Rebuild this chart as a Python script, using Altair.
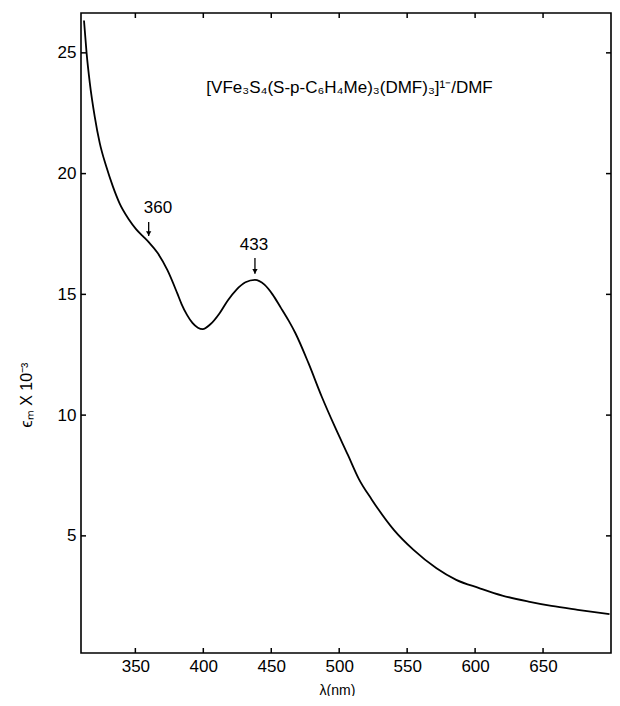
import altair as alt
import pandas as pd

# Spectrum
wavelength = [312.2, 314.1, 316.5, 320.1, 323.8, 328.6, 333.5, 338.3, 345.5, 350.5,
              355.3, 360.0, 366.3, 373.6, 380.8, 384.0, 388.0, 392.0, 396.0, 399.6,
              405.0, 412.0, 418.0, 424.3, 431.0, 438.0, 445.0, 450.9, 457.0, 462.9,
              467.8, 477.4, 487.1, 496.7, 506.4, 514.5, 524.0, 540.2, 554.7, 571.6,
              586.1, 603.0, 620.0, 639.3, 656.2, 675.5, 698.9]
epsilon = [26.34, 25.0, 23.75, 22.36, 21.26, 20.29, 19.46, 18.78, 18.08, 17.7,
           17.42, 17.15, 16.72, 16.0, 15.05, 14.6, 14.15, 13.82, 13.62, 13.56,
           13.75, 14.22, 14.75, 15.19, 15.5, 15.6, 15.4, 15.0, 14.45, 13.9,
           13.39, 12.15, 10.77, 9.53, 8.35, 7.35, 6.5, 5.25, 4.42, 3.66,
           3.18, 2.84, 2.53, 2.28, 2.1, 1.94, 1.76]

x_ticks = [350, 400, 450, 500, 550, 600, 650]
y_ticks = [5, 10, 15, 20, 25]

peak_labels = ["360", "433"]
peak_label_x = [366.7, 437.3]
peak_label_y = [18.56, 17.05]
arrow_x = [359.8, 438.0]
arrow_top = [18.0, 16.51]
arrow_tip = [17.42, 15.85]

title_text = ["[VFe₃S₄(S-p-C₆H₄Me)₃(DMF)₃]¹⁻/DMF"]
title_x = [507.6]
title_y = [23.55]

W, H = 530, 640
FONT = "Liberation Sans"

xscale = alt.Scale(domain=[310, 700], nice=False, zero=False)
yscale = alt.Scale(domain=[0.15, 26.65], nice=False, zero=False)

x_axis = alt.Axis(
    values=x_ticks, domain=False, ticks=False, tickSize=0, grid=False,
    labelPadding=5, labelFontSize=17, labelFont=FONT, labelColor="black",
    title="λ(nm)", titleFont=FONT, titleFontSize=14, titleFontWeight="normal",
    titleColor="black", titleX=256, titleY=37, titleBaseline="middle", titleAlign="center")
y_axis = alt.Axis(
    values=y_ticks, domain=False, ticks=False, tickSize=0, grid=False,
    labelPadding=5, labelFontSize=17, labelFont=FONT, labelColor="black",
    title="ϵₘ X 10⁻³", titleFont=FONT, titleFontSize=16, titleFontWeight="normal",
    titleColor="black", titleAngle=270, titleX=-55, titleY=381.5,
    titleBaseline="middle", titleAlign="center")

X = alt.X("wl:Q", scale=xscale, axis=x_axis, title="λ(nm)")
Y = alt.Y("eps:Q", scale=yscale, axis=y_axis, title="ϵₘ X 10⁻³")

df_line = pd.DataFrame({"wl": wavelength, "eps": epsilon})
df_xt = pd.DataFrame({"wl": x_ticks})
df_yt = pd.DataFrame({"eps": y_ticks})
df_lab = pd.DataFrame({"wl": peak_label_x, "eps": peak_label_y, "t": peak_labels})
df_arr = pd.DataFrame({"wl": arrow_x, "eps": arrow_top, "eps2": arrow_tip})
df_head = pd.DataFrame({"wl": arrow_x, "eps": [v + 0.1 for v in arrow_tip]})
df_title = pd.DataFrame({"wl": title_x, "eps": title_y, "t": title_text})

line = alt.Chart(df_line).mark_line(color="black", strokeWidth=1.8, interpolate="monotone").encode(
    x=X, y=Y)

tick_style = dict(color="black", strokeWidth=1.5)
bottom_ticks = alt.Chart(df_xt).mark_rule(**tick_style).encode(
    x=X, y=alt.value(H - 5), y2=alt.value(H))
top_ticks = alt.Chart(df_xt).mark_rule(**tick_style).encode(
    x=X, y=alt.value(0), y2=alt.value(5))
left_ticks = alt.Chart(df_yt).mark_rule(**tick_style).encode(
    y=Y, x=alt.value(0), x2=alt.value(5))
right_ticks = alt.Chart(df_yt).mark_rule(**tick_style).encode(
    y=Y, x=alt.value(W - 5), x2=alt.value(W))

labels = alt.Chart(df_lab).mark_text(font=FONT, fontSize=17, color="black",
                                     align="center", baseline="middle").encode(
    x=X, y=Y, text="t:N")

arrows = alt.Chart(df_arr).mark_rule(color="black", strokeWidth=1.3).encode(
    x=X, y=Y, y2="eps2:Q")
heads = alt.Chart(df_head).mark_point(shape="triangle-down", filled=True, color="black",
                                      size=28, opacity=1).encode(x=X, y=Y)

title = alt.Chart(df_title).mark_text(font=FONT, fontSize=17, color="black",
                                      align="center", baseline="middle").encode(
    x=X, y=Y, text="t:N")

chart = alt.layer(line, bottom_ticks, top_ticks, left_ticks, right_ticks,
                  arrows, heads, labels, title).properties(
    width=W, height=H,
    autosize=alt.AutoSizeParams(type="none"),
    padding={"left": 73, "top": 5, "right": 1, "bottom": 43},
    background="white",
).configure_view(stroke="black", strokeWidth=1.6)

chart.save("out.html", embed_options={"renderer": "svg", "actions": False})
